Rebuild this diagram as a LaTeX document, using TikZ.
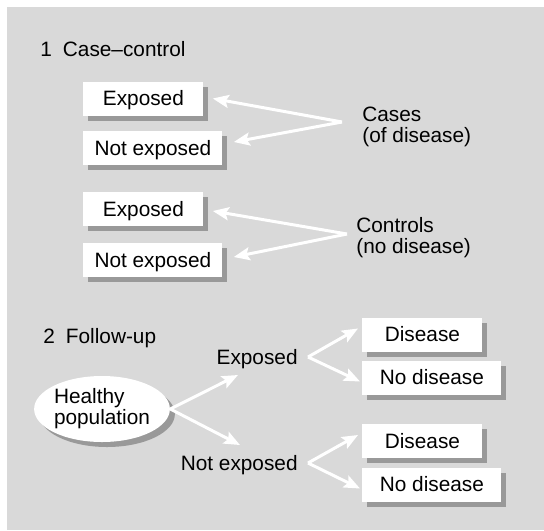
\documentclass[tikz,border=0pt]{standalone}
\usepackage{fontspec}
\setmainfont{Liberation Sans}
\usetikzlibrary{arrows.meta,shapes.geometric,shadows}

\definecolor{panel}{gray}{0.85}
\definecolor{shadowgrey}{gray}{0.6}

\tikzset{
  shadowed/.style={drop shadow={shadow xshift=2.5pt, shadow yshift=-2.5pt, fill=shadowgrey, opacity=1}},
  box/.style={fill=white, shadowed, anchor=west, inner sep=0pt,
    minimum height=17pt, text height=7.4pt, text depth=0pt},
  shortbox/.style={box, minimum width=60pt},
  longbox/.style={box, minimum width=69.5pt},
  lbl/.style={inner sep=0pt, align=left},
  arr/.style={white, line width=1.5pt, -{Stealth[length=8pt,width=6.5pt,inset=1.5pt]}},
}

\begin{document}
\begin{tikzpicture}[x=0.5pt, y=-0.5pt, font=\fontsize{10.4}{10.5}\selectfont]

\useasboundingbox (0,0) rectangle (544,530);
\fill[panel] (7,7) rectangle (544,530);

\begin{scope}
        % 1 Case-control
        \node[lbl, anchor=base west] (t1) at (40,56) {1\hspace{5.5pt}Case–control};

        \coordinate (ca) at (342,122);
        \coordinate (co) at (347,234);

        \node[shortbox] (exA) at (83,98.5) {Exposed};
        \node[longbox] (neA) at (83,148) {Not exposed};
        \node[shortbox] (exB) at (83,209) {Exposed};
        \node[longbox] (neB) at (83,260) {Not exposed};

        \node[lbl, anchor=west] (cas) at (362,127) {Cases\\(of disease)};
        \node[lbl, anchor=west] (con) at (356,238) {Controls\\(no disease)};

        \draw[arr] (ca) -- ([xshift=4.5pt]exA.east);
        \draw[arr] (ca) -- ([xshift=5.5pt,yshift=3pt]neA.east);
        \draw[arr] (co) -- ([xshift=4.5pt,yshift=-1pt]exB.east);
        \draw[arr] (co) -- ([xshift=5.5pt,yshift=1.5pt]neB.east);
\end{scope}

\begin{scope}
        % 2 Follow-up
        \node[lbl, anchor=base west] (t2) at (43,343) {2\hspace{5.5pt}Follow-up};

        \node[ellipse, fill=white, shadowed, inner sep=0pt, align=left,
              minimum width=61pt, minimum height=33pt] (hp) at (102,409) {Healthy\\population};

        \node[lbl, anchor=base east] (lbE) at (298,364) {Exposed};
        \node[lbl, anchor=base east] (lbN) at (298,470) {Not exposed};

        \coordinate (te) at (238,375);
        \coordinate (tn) at (240,445);
        \coordinate (ea) at (308,357);
        \coordinate (na) at (308,463);

        \node[shortbox] (disA) at (362,334.5) {Disease};
        \node[longbox] (ndA) at (362,377.5) {No disease};
        \node[shortbox] (disB) at (362,441) {Disease};
        \node[longbox] (ndB) at (362,484.5) {No disease};

        \draw[arr] (hp.east) -- (te);
        \draw[arr] (hp.east) -- (tn);
        \draw[arr] (ea) -- ([xshift=-2pt,yshift=3pt]disA.west);
        \draw[arr] (ea) -- ([xshift=-1pt,yshift=-2pt]ndA.west);
        \draw[arr] (na) -- ([xshift=-2pt,yshift=3pt]disB.west);
        \draw[arr] (na) -- ([xshift=-1pt,yshift=-2pt]ndB.west);
\end{scope}

\end{tikzpicture}
\end{document}
